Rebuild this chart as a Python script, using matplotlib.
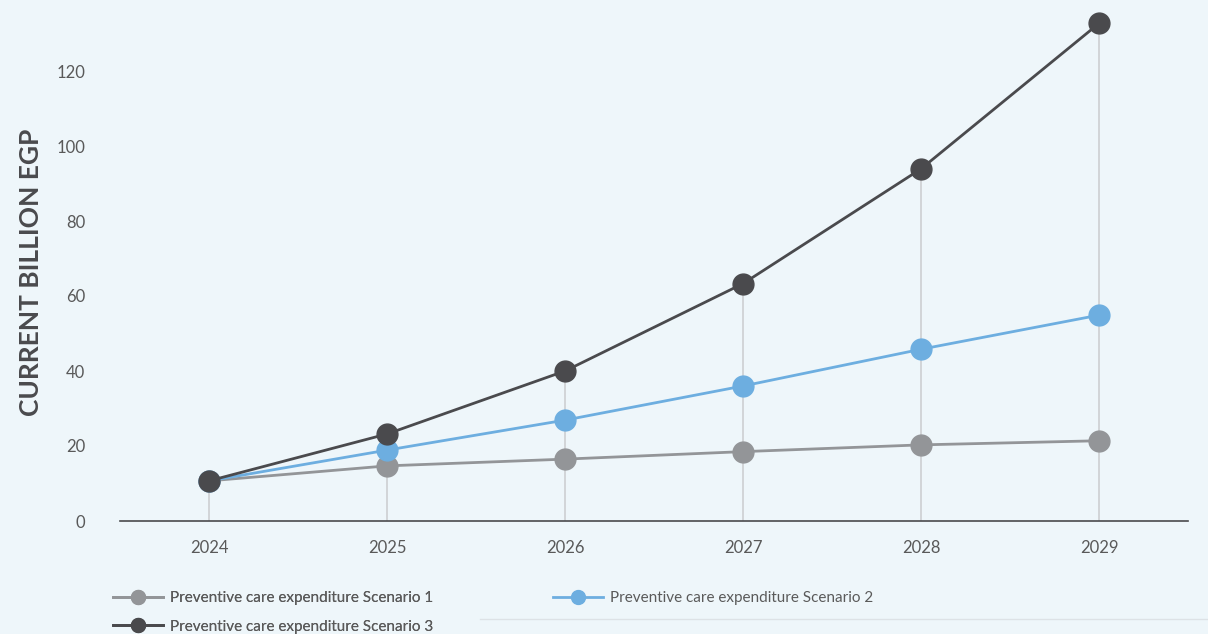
import matplotlib
matplotlib.use("Agg")
import matplotlib.pyplot as plt
from matplotlib.lines import Line2D

plt.rcParams['font.family'] = ['Lato', 'DejaVu Sans']

years = [2024, 2025, 2026, 2027, 2028, 2029]
scenario1 = [10.7, 14.7, 16.5, 18.5, 20.3, 21.4]
scenario2 = [10.7, 18.9, 26.9, 36.0, 45.8, 54.9]
scenario3 = [10.7, 23.2, 40.0, 63.3, 93.9, 132.7]
labels = ["Preventive care expenditure Scenario 1",
          "Preventive care expenditure Scenario 2",
          "Preventive care expenditure Scenario 3"]
yticks = [0, 20, 40, 60, 80, 100, 120]

bg = '#eef6fa'
c1, c2, c3 = '#939598', '#6daee0', '#4a4a4d'

fig = plt.figure(figsize=(12.08, 6.34), dpi=100, facecolor=bg)
ax = fig.add_axes([120/1208, 1-521/634, (1188-120)/1208, 521/634])
ax.set_facecolor(bg)

# drop lines from the top point of each year
tops = [max(a, b, c) for a, b, c in zip(scenario1, scenario2, scenario3)]
ax.vlines(years, 0, tops, color='#cfd2d5', lw=1.3, zorder=1)

ax.plot(years, scenario1, '-o', color=c1, lw=2, ms=15, zorder=3)
ax.plot(years, scenario2, '-o', color=c2, lw=2, ms=15, zorder=4)
ax.plot(years, scenario3, '-o', color=c3, lw=2, ms=15, zorder=5)

ax.set_xlim(2023.5, 2029.5)
ax.set_ylim(0, 521/3.75)
ax.set_xticks(years)
ax.set_yticks(yticks)
ax.tick_params(length=0, labelsize=12, labelcolor='#595959')
ax.tick_params(axis='y', pad=25)
ax.tick_params(axis='x', pad=14)
for s in ['top', 'right', 'left']:
    ax.spines[s].set_visible(False)
ax.spines['bottom'].set_color('#4a4a4d')
ax.spines['bottom'].set_linewidth(1.2)

fig.text(31/1208, 1-272/634, "CURRENT BILLION EGP", rotation=90, ha='center', va='center',
         fontsize=19, fontweight='bold', color='#4a4a4d')

def handle(c):
    return Line2D([], [], color=c, lw=2, marker='o', ms=10)

leg_kw = dict(loc='upper left', frameon=False, fontsize=11, labelcolor='#5a5a5a',
              handlelength=3.3, handletextpad=0.45, labelspacing=0.95,
              borderpad=0, borderaxespad=0)
leg1 = fig.legend([handle(c1), handle(c3)], [labels[0], labels[2]],
                  bbox_to_anchor=(113/1208, 1-591/634), **leg_kw)
fig.legend([handle(c2)], [labels[1]],
           bbox_to_anchor=(553/1208, 1-591/634), **leg_kw)
fig.add_artist(leg1)

fig.add_artist(Line2D([480/1208, 1], [1-619/634, 1-619/634], color='#dde2e6', lw=1))

fig.savefig('out.png', dpi=100, facecolor=bg)
